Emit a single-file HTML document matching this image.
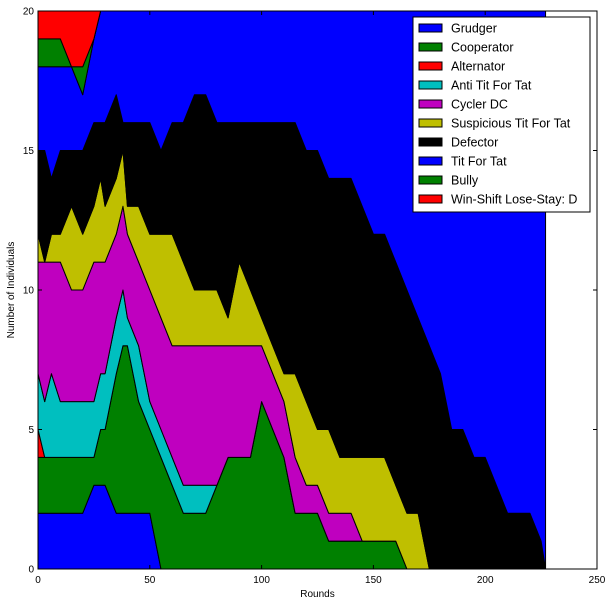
<!DOCTYPE html>
<html><head><meta charset="utf-8"><style>
body{margin:0;background:#fff;}
svg{display:block;font-family:"Liberation Sans","DejaVu Sans",sans-serif;}
</style></head><body>
<svg id="chart" width="613" height="606" xmlns="http://www.w3.org/2000/svg"></svg>
<script>
const rounds=[0,3,6,10,15,20,25,28,30,35,38,40,45,50,55,60,65,70,75,80,85,90,95,100,105,110,115,120,125,130,135,140,145,150,155,160,165,170,175,180,185,190,195,200,205,210,215,220,225,227];
const seriesNames=["Grudger","Cooperator","Alternator","Anti Tit For Tat","Cycler DC","Suspicious Tit For Tat","Defector","Tit For Tat","Bully","Win-Shift Lose-Stay: D"];
const grudger    =[2,2,2,2,2,2,3,3,3,2,2,2,2,2,0,0,0,0,0,0,0,0,0,0,0,0,0,0,0,0,0,0,0,0,0,0,0,0,0,0,0,0,0,0,0,0,0,0,0,0];
const cooperator =[2,2,2,2,2,2,1,2,2,5,6,6,4,3,4,3,2,2,2,3,4,4,4,6,5,4,2,2,2,1,1,1,1,1,1,1,0,0,0,0,0,0,0,0,0,0,0,0,0,0];
const alternator =[1,0,0,0,0,0,0,0,0,0,0,0,0,0,0,0,0,0,0,0,0,0,0,0,0,0,0,0,0,0,0,0,0,0,0,0,0,0,0,0,0,0,0,0,0,0,0,0,0,0];
const antiTft    =[2,2,3,2,2,2,2,2,2,2,2,1,2,1,1,1,1,1,1,0,0,0,0,0,0,0,0,0,0,0,0,0,0,0,0,0,0,0,0,0,0,0,0,0,0,0,0,0,0,0];
const cyclerDc   =[4,5,4,5,4,4,5,4,4,3,3,3,3,4,4,4,5,5,5,5,4,4,4,2,2,2,2,1,1,1,1,1,0,0,0,0,0,0,0,0,0,0,0,0,0,0,0,0,0,0];
const suspTft    =[1,0,1,1,3,2,2,3,2,2,2,1,2,2,3,4,3,2,2,2,1,3,2,1,1,1,3,3,2,3,2,2,3,3,3,2,2,2,0,0,0,0,0,0,0,0,0,0,0,0];
const defector   =[3,4,2,3,2,3,3,2,3,3,1,3,3,4,3,4,5,7,7,6,7,5,6,7,8,9,9,9,10,9,10,10,9,8,8,8,8,7,8,7,5,5,4,4,3,2,2,2,1,0];
const titForTat  =[3,3,4,3,3,2,3,4,4,3,4,4,4,4,5,4,4,3,3,4,4,4,4,4,4,4,4,5,5,6,6,6,7,8,8,9,10,11,12,13,15,15,16,16,17,18,18,18,19,20];
const bully      =[1,1,1,1,0,1,0,0,0,0,0,0,0,0,0,0,0,0,0,0,0,0,0,0,0,0,0,0,0,0,0,0,0,0,0,0,0,0,0,0,0,0,0,0,0,0,0,0,0,0];
const wsls       =[1,1,1,1,2,2,1,0,0,0,0,0,0,0,0,0,0,0,0,0,0,0,0,0,0,0,0,0,0,0,0,0,0,0,0,0,0,0,0,0,0,0,0,0,0,0,0,0,0,0];
const xTicks=[0,50,100,150,200,250];
const yTicks=[0,5,10,15,20];

const allSeries=[grudger,cooperator,alternator,antiTft,cyclerDc,suspTft,defector,titForTat,bully,wsls];
const colors=["#0000ff","#008000","#ff0000","#00bfbf","#bf00bf","#bfbf00","#000000","#0000ff","#008000","#ff0000"];
const L=38,T=11,R=597,B=569;
const xs=v=>L+(v/250)*(R-L);
const ys=v=>B-(v/20)*(B-T);
const NS="http://www.w3.org/2000/svg";
const svg=document.getElementById('chart');
function mk(tag,attrs,parent){const e=document.createElementNS(NS,tag);for(const k in attrs)e.setAttribute(k,attrs[k]);(parent||svg).appendChild(e);return e;}

let cum=rounds.map(()=>0);
const areas=mk('g',{});


allSeries.forEach((s,i)=>{
  const bot=cum.slice();
  const top=cum.map((c,j)=>c+s[j]);
  let pts=[];
  rounds.forEach((r,j)=>pts.push(xs(r).toFixed(2)+','+ys(top[j]).toFixed(2)));
  for(let j=rounds.length-1;j>=0;j--)pts.push(xs(rounds[j]).toFixed(2)+','+ys(bot[j]).toFixed(2));
  const p=mk('polygon',{points:pts.join(' '),fill:colors[i],stroke:'#000','stroke-width':'1','stroke-linejoin':'round'},areas);
  
  
  cum=top;
});

// axes frame
const frame=mk('rect',{x:L,y:T,width:R-L,height:B-T,fill:'none',stroke:'#000','stroke-width':'1'});


xTicks.forEach(t=>{
  const x=xs(t);
  mk('line',{x1:x,y1:B,x2:x,y2:B-4,stroke:'#000'});
  mk('line',{x1:x,y1:T,x2:x,y2:T+4,stroke:'#000'});
  const tx=mk('text',{x:x,y:B+14,'font-size':'10','text-anchor':'middle'});
  tx.textContent=t;
  
  
});
yTicks.forEach(t=>{
  const y=ys(t);
  mk('line',{x1:L,y1:y,x2:L+4,y2:y,stroke:'#000'});
  mk('line',{x1:R,y1:y,x2:R-4,y2:y,stroke:'#000'});
  const ty=mk('text',{x:L-4,y:y+3.5,'font-size':'10','text-anchor':'end'});
  ty.textContent=t;
  
  
});
const xl=mk('text',{x:(L+R)/2,y:597,'font-size':'10','text-anchor':'middle'});
xl.textContent='Rounds';


const yl=mk('text',{x:14,y:(T+B)/2,'font-size':'10','text-anchor':'middle',transform:'rotate(-90 14 '+((T+B)/2)+')'});
yl.textContent='Number of Individuals';



// legend
const lg=mk('g',{});


mk('rect',{x:413,y:17,width:177,height:195,fill:'#fff',stroke:'#000','stroke-width':'1'},lg);
seriesNames.forEach((n,i)=>{
  const y=28+i*19;
  const e=mk('g',{},lg);
  
  
  mk('rect',{x:419,y:y-4,width:23,height:8,fill:colors[i],stroke:'#000','stroke-width':'1'},e);
  const t=mk('text',{x:451,y:y+4.5,'font-size':'12.5'},e);
  t.textContent=n;
});
</script>
</body></html>
